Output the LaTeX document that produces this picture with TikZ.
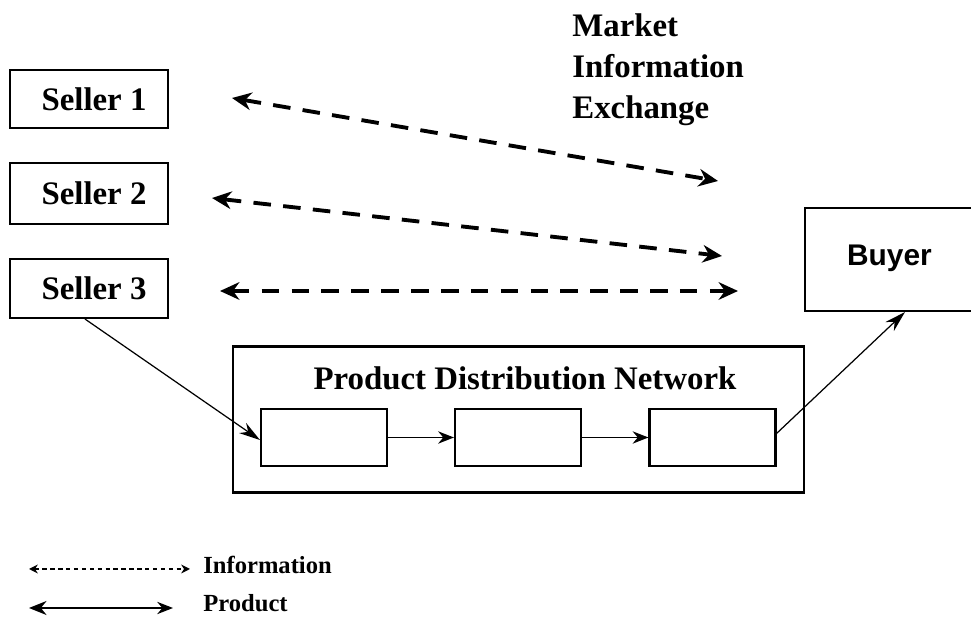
\documentclass[tikz,border=0pt]{standalone}
\usepackage{fontspec}
\setmainfont{Liberation Serif}
\newfontfamily\arialfont{Liberation Sans}
\usetikzlibrary{arrows.meta}
\begin{document}
\begin{tikzpicture}[x=0.02cm,y=-0.02cm,
  box/.style={draw, line width=1.2pt, inner sep=0pt},
  lbl/.style={font=\bfseries\fontsize{18.7}{23.2}\selectfont},
  small/.style={font=\bfseries\fontsize{14}{16}\selectfont},
  info/.style={line width=2.2pt, dash pattern=on 10pt off 7pt,
    {Stealth[length=11pt,width=10pt]}-{Stealth[length=11pt,width=10pt]}},
  prod/.style={line width=0.7pt, -{Stealth[length=12pt,width=7pt]}},
  chain/.style={line width=1pt, -{Stealth[length=9pt,width=7pt]}},
  legdot/.style={line width=1.5pt, dash pattern=on 2.5pt off 2pt,
    {Stealth[length=5pt,width=5pt]}-{Stealth[length=5pt,width=5pt]}},
  legprod/.style={line width=0.9pt,
    {Stealth[length=10pt,width=8pt]}-{Stealth[length=9pt,width=7pt]}}]
\useasboundingbox (0,0) rectangle (971,617);
\clip (0,0) rectangle (971,617);

% sellers
\node[box, lbl, minimum width=3.16cm, minimum height=1.16cm] (s1) at (89,99) {\hspace*{0.2cm}Seller 1};
\node[box, lbl, minimum width=3.16cm, minimum height=1.22cm] (s2) at (89,193.5) {\hspace*{0.2cm}Seller 2};
\node[box, lbl, minimum width=3.16cm, minimum height=1.18cm] (s3) at (89,288.5) {\hspace*{0.2cm}Seller 3};

% buyer
\node[box, minimum width=3.4cm, minimum height=2.06cm] (buyer) at (890,259.5) {};
\node[font=\arialfont\bfseries\fontsize{17}{20}\selectfont] (buyertxt) at (889.5,258) {Buyer};

% market info text
\node[lbl, anchor=north west, inner sep=0pt, align=left] (mkt) at (572,13.5) {Market\\Information\\Exchange};

% information arrows
\coordinate (a1l) at (232,98);  \coordinate (a1r) at (718,181);
\coordinate (a2l) at (212,198); \coordinate (a2r) at (722,256);
\coordinate (a3l) at (220,291); \coordinate (a3r) at (738,291);
\draw[info] (a1l) -- (a1r);
\draw[info] (a2l) -- (a2r);
\draw[info] (a3l) -- (a3r);

% product distribution network
\node[box, minimum width=11.42cm, minimum height=2.92cm] (pdn) at (518.5,419.5) {};
\node[lbl, anchor=base] (pdntxt) at (525,390) {Product Distribution Network};
\node[box, minimum width=2.52cm, minimum height=1.14cm] (b1) at (324,437.5) {};
\node[box, minimum width=2.52cm, minimum height=1.14cm] (b2) at (518,437.5) {};
\node[box, minimum width=2.52cm, minimum height=1.14cm] (b3) at (712.5,437.5) {};

\draw[chain] (b1.east) -- (b2.west);
\draw[chain] (b2.east) -- (b3.west);
\draw[prod] ([xshift=-0.08cm]s3.south) -- ([yshift=-0.05cm]b1.west);
\draw[prod] ([yshift=0.08cm]b3.east) -- ([xshift=0.3cm]buyer.south);

% legend
\coordinate (li1) at (29,569); \coordinate (li2) at (190,569);
\coordinate (pr1) at (29,608); \coordinate (pr2) at (173,608);
\draw[legdot] (li1) -- (li2);
\draw[legprod] (pr1) -- (pr2);
\node[small, anchor=west, inner sep=0pt] (linfo) at (203,565) {Information};
\node[small, anchor=west, inner sep=0pt] (lprod) at (203,603) {Product};
\end{tikzpicture}
\end{document}
